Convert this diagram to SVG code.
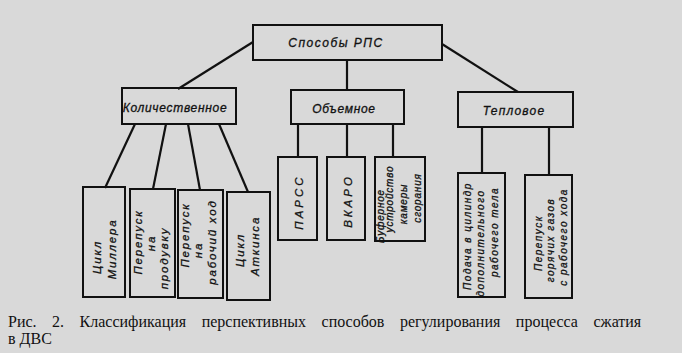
<svg xmlns="http://www.w3.org/2000/svg" width="682" height="353" viewBox="0 0 682 353">
<style>
.bx{fill:none;stroke:#111;stroke-width:2}
.ln{fill:none;stroke:#111;stroke-width:2.2}
.t{font-family:"Liberation Sans",Arial,sans-serif;font-style:italic;fill:#111;stroke:#111;stroke-width:0.3;text-anchor:middle}
.h{font-size:12px;letter-spacing:1px}
.v{font-size:11.5px;letter-spacing:1.8px}
.s{font-size:10px;letter-spacing:1.5px}
.cap{font-family:"Liberation Serif","Times New Roman",serif;font-size:16px;fill:#111}
</style>
<rect x="0" y="0" width="682" height="353" fill="#d9d9d9"/>
<g id="connectors">
<line class="ln" x1="253" y1="42" x2="178" y2="89"/>
<line class="ln" x1="347" y1="60" x2="347" y2="90"/>
<line class="ln" x1="442" y1="44" x2="518" y2="92"/>
<line class="ln" x1="135" y1="124" x2="105" y2="188"/>
<line class="ln" x1="166" y1="124" x2="153" y2="189"/>
<line class="ln" x1="188" y1="124" x2="200" y2="190"/>
<line class="ln" x1="219" y1="124" x2="248" y2="192"/>
<line class="ln" x1="298" y1="124" x2="298" y2="157"/>
<line class="ln" x1="347" y1="124" x2="347" y2="157"/>
<line class="ln" x1="393" y1="124" x2="393" y2="157"/>
<line class="ln" x1="482" y1="127" x2="482" y2="173"/>
<line class="ln" x1="549" y1="127" x2="549" y2="175"/>
</g>
<g id="root"><rect class="bx" x="253" y="25" width="189" height="35"/><text class="t h" x="336" y="47" style="letter-spacing:1.5px">Способы РПС</text></g>
<g id="kol"><rect class="bx" x="122" y="88" width="114" height="36"/><text class="t h" x="175" y="112" style="letter-spacing:0.7px">Количественное</text></g>
<g id="obem"><rect class="bx" x="291" y="90" width="113" height="34"/><text class="t h" x="344" y="113" style="letter-spacing:0.7px">Объемное</text></g>
<g id="tepl"><rect class="bx" x="458" y="92" width="115" height="35"/><text class="t h" x="514" y="115" style="letter-spacing:1.2px">Тепловое</text></g>
<g id="miller"><rect class="bx" x="83" y="187" width="42" height="110"/>
<text class="t v" transform="translate(101,257) rotate(-90)">Цикл</text>
<text class="t v" transform="translate(116,249) rotate(-90)">Миллера</text></g>
<g id="produvka"><rect class="bx" x="130" y="189" width="45" height="108"/>
<text class="t v" transform="translate(142,242) rotate(-90)">Перепуск</text>
<text class="t v" transform="translate(155,243) rotate(-90)">на</text>
<text class="t v" transform="translate(168,258) rotate(-90)">продувку</text></g>
<g id="rabhod"><rect class="bx" x="178" y="190" width="45" height="108"/>
<text class="t v" transform="translate(189,235) rotate(-90)">Перепуск</text>
<text class="t v" transform="translate(202,250) rotate(-90)">на</text>
<text class="t v" transform="translate(216,242) rotate(-90)">рабочий ход</text></g>
<g id="atkinson"><rect class="bx" x="227" y="192" width="43" height="108"/>
<text class="t v" transform="translate(244,250) rotate(-90)">Цикл</text>
<text class="t v" transform="translate(259,246) rotate(-90)">Аткинса</text></g>
<g id="parss"><rect class="bx" x="278" y="157" width="39" height="83"/>
<text class="t v" transform="translate(303,202) rotate(-90)" style="letter-spacing:3px">ПАРСС</text></g>
<g id="vkaro"><rect class="bx" x="327" y="157" width="38" height="83"/>
<text class="t v" transform="translate(352,201) rotate(-90)" style="letter-spacing:3px">ВКАРО</text></g>
<g id="bufer"><rect class="bx" x="375" y="157" width="50" height="84"/>
<text class="t s" transform="translate(384,216) rotate(-90)" style="letter-spacing:0.8px">Буферное</text>
<text class="t s" transform="translate(393,199) rotate(-90)" style="letter-spacing:0.8px">устройство</text>
<text class="t s" transform="translate(407,204) rotate(-90)" style="letter-spacing:0.8px">камеры</text>
<text class="t s" transform="translate(421,198) rotate(-90)" style="letter-spacing:0.8px">сгорания</text></g>
<g id="podacha"><rect class="bx" x="458" y="173" width="47" height="124"/>
<text class="t s" transform="translate(471,236) rotate(-90)">Подача в цилиндр</text>
<text class="t s" transform="translate(484,243) rotate(-90)">дополнительного</text>
<text class="t s" transform="translate(498,232) rotate(-90)">рабочего тела</text></g>
<g id="perepusk"><rect class="bx" x="525" y="175" width="47" height="123"/>
<text class="t s" transform="translate(542,243) rotate(-90)">Перепуск</text>
<text class="t s" transform="translate(554,240) rotate(-90)">горячих газов</text>
<text class="t s" transform="translate(567,237) rotate(-90)">с рабочего хода</text></g>
<g id="caption">
<text class="cap" x="8" y="327" word-spacing="11.5">Рис. 2. Классификация перспективных способов регулирования процесса сжатия</text>
<text class="cap" x="8" y="344">в ДВС</text>
</g>
</svg>
